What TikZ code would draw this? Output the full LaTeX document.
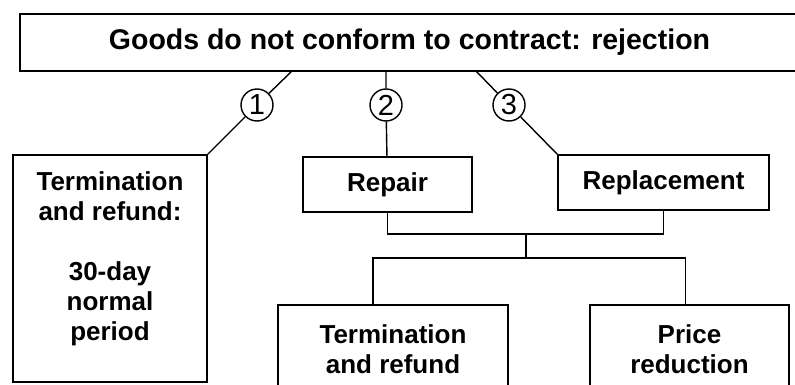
\documentclass[tikz,border=0pt]{standalone}
\usepackage{fontspec}
\setmainfont{Liberation Sans}
\tikzset{>=latex}
\usetikzlibrary{positioning}

\begin{document}
\begin{tikzpicture}[x=1pt, y=-1pt]
            \tikzset{box/.style = {draw, line width=1.6pt, inner sep=0pt, align=center, font=\bfseries\fontsize{26}{30}\selectfont}}
            \tikzset{num/.style = {draw, circle, line width=1.4pt, minimum size=32pt, inner sep=0pt, font=\fontsize{29}{29}\selectfont}}
            \tikzset{link/.style = {line width=1.4pt}}
            \useasboundingbox (0, 0) rectangle (795, 385);
            % top
            \node[box, minimum width=779, minimum height=57, font=\bfseries\fontsize{28.5}{34}\selectfont] (goods) at (409.5, 42.5) {Goods do not conform to contract: rejection};
            \node[num] (c1) at (257, 105) {1};
            \node[num] (c2) at (386, 105) {2};
            \node[num] (c3) at (509, 105) {3};
            \coordinate (g1) at (292, 71);
            \coordinate (g3) at (476, 71);
            % remedies
            \node[box, minimum width=194, minimum height=227] (refund) at (110, 268.5) {Termination\\and refund:\\[30pt]30-day\\normal\\period\\[-6pt]\mbox{}};
            \node[box, minimum width=169, minimum height=55] (repair) at (387.5, 184.5) {Repair};
            \node[box, minimum width=211, minimum height=55] (replace) at (663.5, 182.5) {Replacement};
            \node[box, minimum width=230, minimum height=89] (termination) at (393, 349.5) {Termination\\and refund};
            \node[box, minimum width=199, minimum height=89] (price) at (689.5, 349.5) {Price\\reduction};
            \coordinate (up) at (526, 234);
            \coordinate (low) at (526, 258);
            % links
            \draw[link] (g1) -- (c1) -- (refund.north east);
            \draw[link] (goods.south -| c2) -- (c2) -- (repair);
            \draw[link] (g3) -- (c3) -- (replace.north west);
            \draw[link] (repair.south) |- (up) -| (replace.south);
            \draw[link] (up) -- (low);
            \draw[link] ([xshift=-20pt]termination.north) |- (low) -| ([xshift=-4pt]price.north);
        \end{tikzpicture}
\end{document}
